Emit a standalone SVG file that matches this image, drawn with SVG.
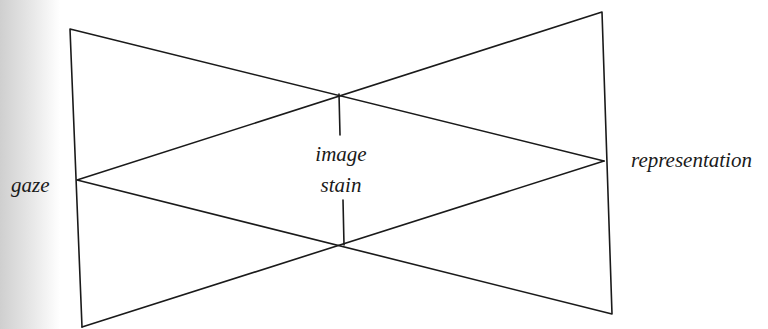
<svg xmlns="http://www.w3.org/2000/svg" width="768" height="329" viewBox="0 0 768 329">
<defs>
<linearGradient id="paper" x1="0" y1="0" x2="1" y2="0">
<stop offset="0" stop-color="#cfcfcf"/>
<stop offset="0.5" stop-color="#e6e6e6"/>
<stop offset="1" stop-color="#ffffff"/>
</linearGradient>
</defs>
<style>
.ln{stroke:#1a1a1a;stroke-width:1.6;fill:none;stroke-linecap:round;stroke-linejoin:round}
.lbl{font-family:"Liberation Serif","Times New Roman",serif;font-style:italic;font-size:21px;fill:#1a1a1a}
</style>
<rect width="768" height="329" fill="#ffffff"/>
<rect width="60" height="329" fill="url(#paper)"/>
<g id="connectors">
<path class="ln" d="M82,327 L70,29 L604,161"/>
<path class="ln" d="M77,180 L602,12 L612,314 L77,180"/>
<path class="ln" d="M82,327 L604,161"/>
<path class="ln" d="M339,94 L340,135"/>
<path class="ln" d="M343,200 L344,245"/>
</g>
<g id="gaze"><text class="lbl" x="11" y="192">gaze</text></g>
<g id="image-stain">
<text class="lbl" x="341" y="161" text-anchor="middle">image</text>
<text class="lbl" x="341" y="192" text-anchor="middle">stain</text>
</g>
<g id="representation"><text class="lbl" x="631" y="167">representation</text></g>
</svg>
